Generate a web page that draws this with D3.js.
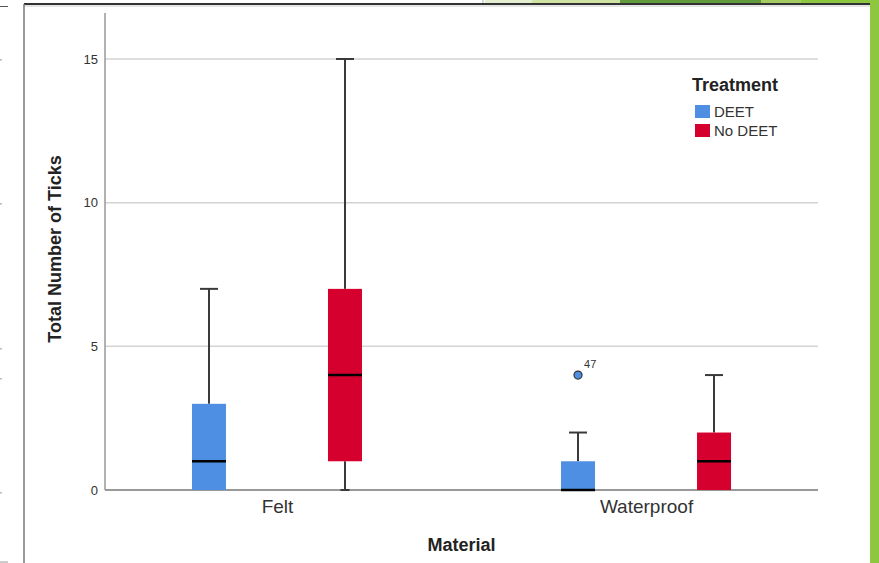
<!DOCTYPE html>
<html>
<head>
<meta charset="UTF-8">
<title>Ticks boxplot</title>
<script src="https://d3js.org/d3.v7.min.js"></script>
<style>
  body { margin: 0; background: #fff; }
  svg { display: block; font-family: "Liberation Sans", Arial, sans-serif; }
</style>
</head>
<body>
<svg id="chart" width="879" height="563"></svg>
<script>
// data
var materials = ["Felt", "Waterproof"];
var treatments = ["DEET", "No DEET"];
// one entry per material, per treatment: [DEET, No DEET]
var whiskerLow = { "Felt": [0, 0], "Waterproof": [0, 0] };
var q1 = { "Felt": [0, 1], "Waterproof": [0, 0] };
var median = { "Felt": [1, 4], "Waterproof": [0, 1] };
var q3 = { "Felt": [3, 7], "Waterproof": [1, 2] };
var whiskerHigh = { "Felt": [7, 15], "Waterproof": [2, 4] };
var outliers = [{ material: "Waterproof", treatment: "DEET", value: 4, label: "47" }];
var yTicks = [0, 5, 10, 15];
var colors = ["#4f8fe3", "#d6002f"];

var svg = d3.select("#chart");

// slide frame around the picture
svg.append("rect").attr("x", 870).attr("y", 0).attr("width", 9).attr("height", 563).attr("fill", "#8dc63f");
var strip = [[485, 532, "#e4efd2"], [532, 620, "#cfe4a3"], [620, 761, "#629a3e"], [761, 801, "#a4cc63"], [801, 870, "#8dc63f"]];
strip.forEach(function (s) {
    svg.append("rect").attr("x", s[0]).attr("y", 0).attr("width", s[1] - s[0]).attr("height", 3).attr("fill", s[2]);
});
svg.append("line").attr("x1", 483).attr("x2", 483).attr("y1", 0).attr("y2", 4).attr("stroke", "#aaa");
svg.append("line").attr("x1", 24).attr("x2", 870).attr("y1", 4).attr("y2", 4).attr("stroke", "#333").attr("stroke-width", 2);
svg.append("line").attr("x1", 24).attr("x2", 870).attr("y1", 6).attr("y2", 6).attr("stroke", "#ccc").attr("stroke-width", 1);
svg.append("line").attr("x1", 24).attr("x2", 24).attr("y1", 4).attr("y2", 563).attr("stroke", "#777").attr("stroke-width", 1.5);
svg.append("line").attr("x1", 0).attr("x2", 8).attr("y1", 6.5).attr("y2", 6.5).attr("stroke", "#555");
svg.append("line").attr("x1", 0).attr("x2", 8).attr("y1", 562).attr("y2", 562).attr("stroke", "#999");
[59, 203, 348, 378, 492].forEach(function (yy) {
    svg.append("rect").attr("x", 0).attr("y", yy).attr("width", 2).attr("height", 1.5).attr("fill", "#bbb");
});

// scales
var left = 105, right = 818, bottom = 490;
var y = d3.scaleLinear().domain([0, 15]).range([bottom, 59]);
var x = d3.scalePoint().domain(materials).range([left, right]).padding(0.466);
var xt = d3.scalePoint().domain(treatments).range([-68, 68]);
var boxW = 34, capW = 18;

// gridlines
svg.append("g").selectAll("line").data(yTicks.filter(function (d) { return d > 0; })).join("line")
    .attr("x1", left).attr("x2", right)
    .attr("y1", function (d) { return y(d); }).attr("y2", function (d) { return y(d); })
    .attr("stroke", "#d3d3d3").attr("stroke-width", 1.5);

// y axis
var yAxis = svg.append("g").attr("transform", "translate(" + left + ",0)")
    .call(d3.axisLeft(y).tickValues(yTicks).tickSize(0).tickPadding(7));
yAxis.select(".domain").remove();
yAxis.selectAll("text").attr("font-size", 13).attr("fill", "#333").attr("font-family", "Liberation Sans, Arial, sans-serif");
svg.append("line").attr("x1", left).attr("x2", left).attr("y1", y(16.6)).attr("y2", bottom)
    .attr("stroke", "#999").attr("stroke-width", 1.5);

// x axis line (under the boxes so a zero median stays visible)
svg.append("line").attr("x1", left).attr("x2", right).attr("y1", bottom).attr("y2", bottom)
    .attr("stroke", "#999").attr("stroke-width", 2);

// boxes
var boxes = [];
materials.forEach(function (m) {
    treatments.forEach(function (t, i) {
        boxes.push({ m: m, t: t, i: i, lo: whiskerLow[m][i], q1: q1[m][i], med: median[m][i], q3: q3[m][i], hi: whiskerHigh[m][i] });
    });
});
var g = svg.append("g").selectAll("g").data(boxes).join("g")
    .attr("transform", function (d) { return "translate(" + (x(d.m) + xt(d.t)) + ",0)"; });

g.append("line").attr("x1", 0).attr("x2", 0)
    .attr("y1", function (d) { return y(d.q3); }).attr("y2", function (d) { return y(d.hi); })
    .attr("stroke", "#3a3a3a").attr("stroke-width", 2);
g.append("line").attr("x1", -capW / 2).attr("x2", capW / 2)
    .attr("y1", function (d) { return y(d.hi); }).attr("y2", function (d) { return y(d.hi); })
    .attr("stroke", "#3a3a3a").attr("stroke-width", 2);

// lower whisker only where it exists
var low = g.filter(function (d) { return d.lo < d.q1; });
low.append("line").attr("x1", 0).attr("x2", 0)
    .attr("y1", function (d) { return y(d.q1); }).attr("y2", function (d) { return y(d.lo); })
    .attr("stroke", "#3a3a3a").attr("stroke-width", 2);
low.append("line").attr("x1", -capW / 4).attr("x2", capW / 4)
    .attr("y1", function (d) { return y(d.lo); }).attr("y2", function (d) { return y(d.lo); })
    .attr("stroke", "#3a3a3a").attr("stroke-width", 2);

g.append("rect").attr("x", -boxW / 2).attr("width", boxW)
    .attr("y", function (d) { return y(d.q3); })
    .attr("height", function (d) { return y(d.q1) - y(d.q3); })
    .attr("fill", function (d) { return colors[d.i]; });
g.append("line").attr("x1", -boxW / 2).attr("x2", boxW / 2)
    .attr("y1", function (d) { return y(d.med); }).attr("y2", function (d) { return y(d.med); })
    .attr("stroke", "#000").attr("stroke-width", 2.5);

// outliers
outliers.forEach(function (o) {
    var cx = x(o.material) + xt(o.treatment);
    svg.append("circle").attr("cx", cx).attr("cy", y(o.value)).attr("r", 4)
        .attr("fill", colors[treatments.indexOf(o.treatment)]).attr("stroke", "#333").attr("stroke-width", 1.2);
    svg.append("text").attr("x", cx + 6).attr("y", y(o.value) - 7)
        .attr("font-size", 11).attr("fill", "#333").text(o.label);
});

// x labels
var xAxis = svg.append("g").attr("transform", "translate(0," + bottom + ")")
    .call(d3.axisBottom(x).tickSize(0).tickPadding(10));
xAxis.select(".domain").remove();
xAxis.selectAll("text").attr("font-size", 19).attr("fill", "#333").attr("font-family", "Liberation Sans, Arial, sans-serif");

// axis titles
svg.append("text").attr("x", (left + right) / 2).attr("y", 551).attr("text-anchor", "middle")
    .attr("font-size", 18).attr("font-weight", "bold").attr("fill", "#222").text("Material");
svg.append("text").attr("transform", "translate(61,249) rotate(-90)").attr("text-anchor", "middle")
    .attr("font-size", 18).attr("font-weight", "bold").attr("fill", "#222").text("Total Number of Ticks");

// legend
var lg = svg.append("g").attr("transform", "translate(692,0)");
lg.append("text").attr("x", 0).attr("y", 91).attr("font-size", 18).attr("font-weight", "bold")
    .attr("fill", "#222").text("Treatment");
lg.selectAll("rect").data(treatments).join("rect")
    .attr("x", 3).attr("y", function (d, i) { return 105 + i * 19; })
    .attr("width", 15).attr("height", 13).attr("fill", function (d, i) { return colors[i]; });
lg.selectAll("text.item").data(treatments).join("text").attr("class", "item")
    .attr("x", 22).attr("y", function (d, i) { return 117 + i * 19; })
    .attr("font-size", 15).attr("fill", "#333").text(function (d) { return d; });
</script>
</body>
</html>
